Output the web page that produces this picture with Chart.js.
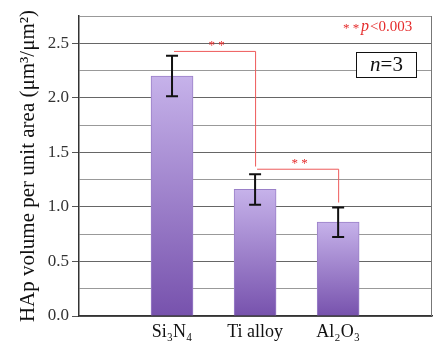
<!DOCTYPE html>
<html>
<head>
<meta charset="utf-8">
<script src="https://cdn.jsdelivr.net/npm/chart.js@4.4.1/dist/chart.umd.min.js"></script>
<style>
  html, body { margin: 0; padding: 0; background: #fff; }
  #wrap { width: 437px; height: 341px; }
</style>
</head>
<body>
<div id="wrap"><canvas id="chart" width="437" height="341"></canvas></div>
<script>
// data
const categories = ['Si\u2083N\u2084', 'Ti alloy', 'Al\u2082O\u2083'];
const meanValues = [2.2, 1.16, 0.86];
const errValues = [0.185, 0.14, 0.135];
const yTicks = [0, 0.25, 0.5, 0.75, 1, 1.25, 1.5, 1.75, 2, 2.25, 2.5, 2.75];
// significance brackets: [from index, to index, bracket height, drop-to value]
const brackets = [
  [0, 1, 2.43, 1.37],
  [1, 2, 1.35, 1.04],
];
const pText = 'p<0.003';
const nText = '=3';

const serif = '"Liberation Serif", "DejaVu Serif", serif';

function barGradient(ctx) {
  const chart = ctx.chart;
  if (!chart.chartArea || ctx.type !== 'data') return '#a88cd6';
  const y = chart.scales.y;
  const top = y.getPixelForValue(ctx.parsed.y);
  const bottom = y.getPixelForValue(0);
  const g = chart.ctx.createLinearGradient(0, top, 0, bottom);
  g.addColorStop(0, '#c6b2ea');
  g.addColorStop(1, '#7752ad');
  return g;
}

const extras = {
  id: 'extras',
  afterDatasetsDraw(chart) {
    const ctx = chart.ctx;
    const xs = chart.scales.x, ys = chart.scales.y;
    const area = chart.chartArea;

    // right border of the plot
    ctx.save();
    ctx.strokeStyle = '#777';
    ctx.lineWidth = 1;
    ctx.beginPath();
    ctx.moveTo(area.right - 0.5, area.top);
    ctx.lineTo(area.right - 0.5, area.bottom);
    ctx.stroke();

    // error bars
    ctx.strokeStyle = '#111';
    ctx.lineWidth = 2;
    meanValues.forEach((v, i) => {
      const x = xs.getPixelForValue(i + 1);
      const yt = ys.getPixelForValue(v + errValues[i]);
      const yb = ys.getPixelForValue(v - errValues[i]);
      ctx.beginPath();
      ctx.moveTo(x, yt); ctx.lineTo(x, yb);
      ctx.moveTo(x - 6, yt); ctx.lineTo(x + 6, yt);
      ctx.moveTo(x - 6, yb); ctx.lineTo(x + 6, yb);
      ctx.stroke();
    });

    // significance brackets
    ctx.strokeStyle = '#ee5a5a';
    ctx.fillStyle = '#e52b2b';
    ctx.lineWidth = 1;
    ctx.font = '13px ' + serif;
    ctx.textAlign = 'center';
    ctx.textBaseline = 'middle';
    brackets.forEach(b => {
      const x1 = xs.getPixelForValue(b[0] + 1) + 2;
      const x2 = xs.getPixelForValue(b[1] + 1);
      const yh = ys.getPixelForValue(b[2]);
      const yd = ys.getPixelForValue(b[3]);
      ctx.beginPath();
      ctx.moveTo(x1, yh + 0.5);
      ctx.lineTo(x2 + 0.5, yh + 0.5);
      ctx.lineTo(x2 + 0.5, yd);
      ctx.stroke();
      ctx.fillText('* *', (x1 + x2) / 2 + 2, yh - 5);
    });

    // p-value note
    ctx.textAlign = 'left';
    ctx.font = '13px ' + serif;
    ctx.fillText('* *', 343, 29);
    ctx.font = 'italic 16px ' + serif;
    ctx.fillText('p', 361, 27);
    const pw = ctx.measureText('p').width;
    ctx.font = '15px ' + serif;
    ctx.fillText(pText.slice(1), 361 + pw + 1, 27);

    // n=3 box
    ctx.fillStyle = '#fff';
    ctx.fillRect(356, 52, 60, 25);
    ctx.strokeStyle = '#111';
    ctx.lineWidth = 1;
    ctx.strokeRect(356.5, 52.5, 60, 25);
    ctx.fillStyle = '#111';
    ctx.font = 'italic 21px ' + serif;
    const nw = ctx.measureText('n').width;
    ctx.font = '21px ' + serif;
    const rest = ctx.measureText(nText).width;
    const sx = 386.5 - (nw + rest) / 2;
    ctx.font = 'italic 21px ' + serif;
    ctx.fillText('n', sx, 65.5);
    ctx.font = '21px ' + serif;
    ctx.fillText(nText, sx + nw, 65.5);
    ctx.restore();
  }
};

new Chart(document.getElementById('chart'), {
  type: 'bar',
  data: {
    datasets: [{
      data: meanValues.map((v, i) => ({ x: i + 1, y: v })),
      backgroundColor: barGradient,
      borderColor: '#9a80c8',
      borderWidth: 1,
      barThickness: 42,
    }],
  },
  options: {
    responsive: false,
    animation: false,
    layout: { padding: { top: 16, right: 5, left: 16, bottom: 0 } },
    plugins: { legend: { display: false }, tooltip: { enabled: false } },
    scales: {
      x: {
        type: 'linear',
        offset: false,
        min: -0.12,
        max: 4.13,
        afterBuildTicks: (s) => { s.ticks = categories.map((c, i) => ({ value: i + 1 })); },
        afterFit: (s) => { s.height = 25; },
        grid: { display: false, drawTicks: false, offset: false },
        border: { display: true, color: '#333', width: 1.5 },
        ticks: {
          autoSkip: false,
          maxRotation: 0,
          padding: 5,
          color: '#111',
          font: { family: serif, size: 18 },
          callback: (v) => categories[v - 1] || '',
        },
      },
      y: {
        min: 0,
        max: 2.75,
        afterBuildTicks: (s) => { s.ticks = yTicks.map(v => ({ value: v })); },
        afterFit: (s) => { s.width = 63; },
        border: { display: true, color: '#333', width: 1.5 },
        grid: {
          color: (c) => (c.tick && Math.round(c.tick.value * 100) % 50 === 0) ? '#666' : '#999',
          tickColor: (c) => (c.tick && Math.round(c.tick.value * 100) % 50 === 0) ? '#555' : 'rgba(0,0,0,0)',
          tickLength: 7,
          lineWidth: 1,
        },
        ticks: {
          padding: 3,
          color: '#333',
          font: { family: serif, size: 17 },
          callback: (v) => Math.round(v * 100) % 50 === 0 ? v.toFixed(1) : '',
        },
        title: {
          display: true,
          text: 'HAp volume per unit area (\u03bcm\u00b3/\u03bcm\u00b2)',
          color: '#111',
          font: { family: serif, size: 21 },
          padding: { top: 0, bottom: 2 },
        },
      },
    },
  },
  plugins: [extras],
});
</script>
</body>
</html>
